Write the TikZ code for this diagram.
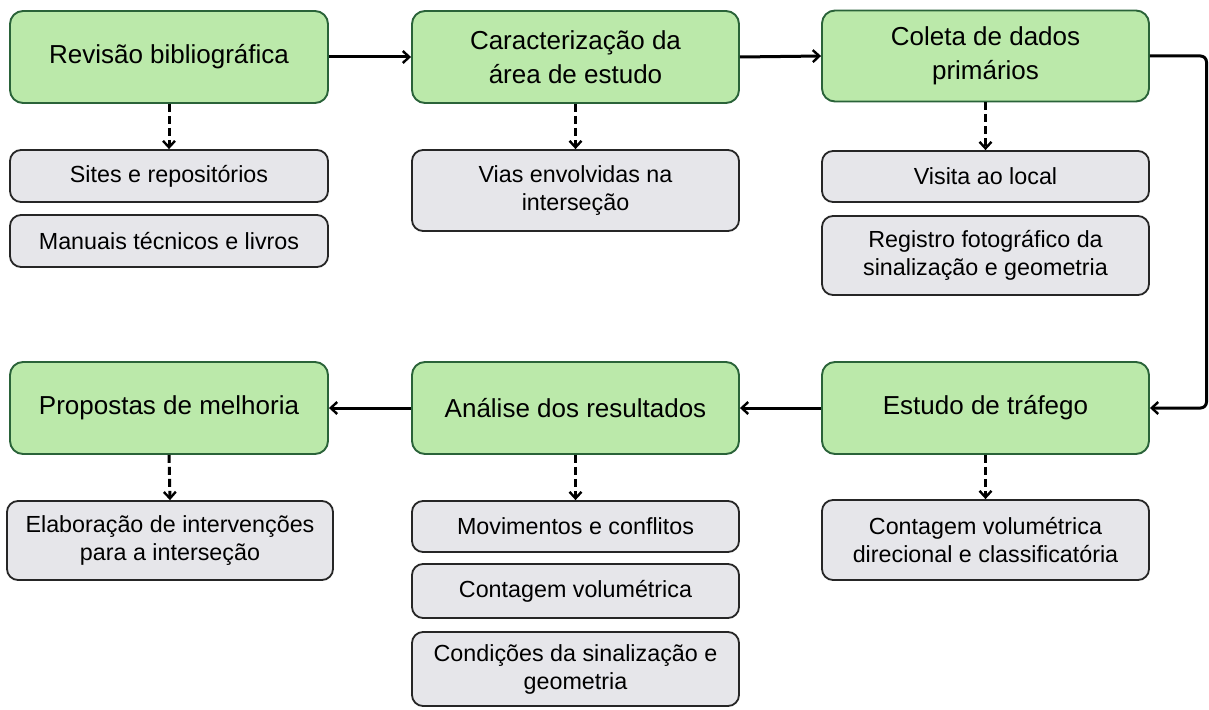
\documentclass[tikz,border=0pt]{standalone}
\usepackage{fontspec}
\setmainfont{Liberation Sans}
\usetikzlibrary{arrows.meta}
\definecolor{gfill}{HTML}{BBE9AA}
\definecolor{gdraw}{HTML}{2A6339}
\definecolor{sfill}{HTML}{E6E6EA}
\definecolor{sdraw}{HTML}{262626}
\begin{document}
\begin{tikzpicture}[x=1pt,y=-1pt,
  mainbox/.style={draw=gdraw, fill=gfill, line width=1.9pt, rounded corners=13pt,
    align=center, inner sep=0pt, font=\fontsize{26}{34}\selectfont},
  subbox/.style={draw=sdraw, fill=sfill, line width=1.8pt, rounded corners=11pt,
    align=center, inner sep=0pt, font=\fontsize{23.3}{28}\selectfont},
  arr/.style={line width=3pt, -{Straight Barb[length=6.5pt,width=12pt,line width=2.4pt]}},
  darr/.style={arr, dash pattern=on 8pt off 4pt}
]
\useasboundingbox (0,0) rectangle (1209,709);
\fill[white] (0,0) rectangle (1209,709);
% main boxes
\node[mainbox, minimum width=318pt, minimum height=92pt] (m1) at (169,57) {Revisão bibliográfica};
\node[mainbox, minimum width=327pt, minimum height=92pt] (m2) at (575.5,57) {Caracterização da\\área de estudo};
\node[mainbox, minimum width=327pt, minimum height=91pt] (m3) at (985.5,56) {Coleta de dados\\primários};
\node[mainbox, minimum width=327pt, minimum height=92pt] (m4) at (985.5,408) {Estudo de tráfego};
\node[mainbox, minimum width=327pt, minimum height=92pt] (m5) at (575.5,408) {Análise dos resultados};
\node[mainbox, minimum width=318pt, minimum height=92pt] (m6) at (169,408) {Propostas de melhoria};
% sub boxes
\node[subbox, minimum width=318pt, minimum height=52pt] (s1) at (169,176) {Sites e repositórios};
\node[subbox, minimum width=318pt, minimum height=52pt] (s2) at (169,241) {Manuais técnicos e livros};
\node[subbox, minimum width=327pt, minimum height=81pt] (s3) at (575.5,190.5) {Vias envolvidas na\\interseção};
\node[subbox, minimum width=327pt, minimum height=51pt] (s4) at (985.5,176.5) {Visita ao local};
\node[subbox, minimum width=327pt, minimum height=79pt] (s5) at (985.5,255.5) {Registro fotográfico da\\sinalização e geometria};
\node[subbox, minimum width=326pt, minimum height=79pt] (s6) at (170,540.5) {Elaboração de intervenções\\para a interseção};
\node[subbox, minimum width=327pt, minimum height=51pt] (s7) at (575.5,526.5) {Movimentos e conflitos};
\node[subbox, minimum width=327pt, minimum height=54pt] (s8) at (575.5,591) {Contagem volumétrica};
\node[subbox, minimum width=327pt, minimum height=74pt] (s9) at (575.5,669) {Condições da sinalização e\\geometria};
\node[subbox, minimum width=327pt, minimum height=80pt] (s10) at (985.5,540) {Contagem volumétrica\\direcional e classificatória};
% solid connectors
\draw[arr] (m1.east) -- (m2.west);
\draw[arr] (m2.east) -- (m3.west);
\coordinate (rt) at (1206.5,0);
\draw[arr, rounded corners=6pt] (m3.east) -- (m3.east -| rt) -- (m4.east -| rt) -- (m4.east);
\draw[arr] (m4.west) -- (m5.east);
\draw[arr] (m5.west) -- (m6.east);
% dashed connectors
\draw[darr] (m1.south) -- (s1.north);
\draw[darr] (m2.south) -- (s3.north);
\draw[darr] (m3.south) -- (s4.north);
\draw[darr] (m4.south) -- (s10.north);
\draw[darr] (m5.south) -- (s7.north);
\draw[darr] (m6.south) -- (s6.north);
\end{tikzpicture}
\end{document}
